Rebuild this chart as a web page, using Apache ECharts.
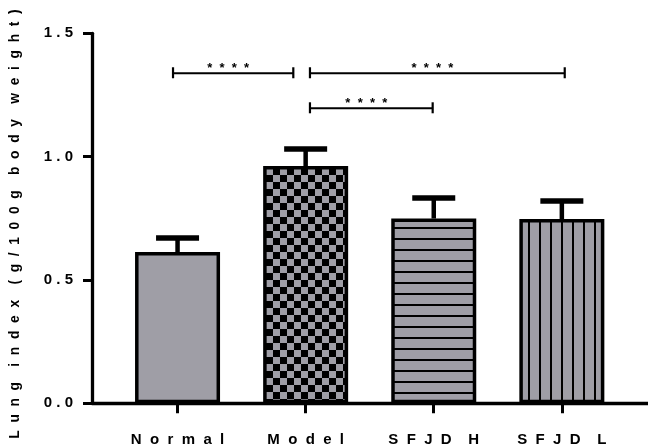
<!DOCTYPE html>
<html><head><meta charset="utf-8">
<script src="https://cdn.jsdelivr.net/npm/echarts@6/dist/echarts.min.js"></script>
<style>html,body{margin:0;padding:0;background:#fff}#c{width:648px;height:446px}</style>
</head><body><div id="c"></div>
<script>
// ---- data ----
const categories = ['Normal', 'Model', 'SFJD H', 'SFJD L'];
const means = [0.613, 0.962, 0.749, 0.747];
const errors = [0.057, 0.069, 0.083, 0.073];
const yTicks = [0.0, 0.5, 1.0, 1.5];
const bracketFrom = [-0.035, 1.034, 1.034];
const bracketTo = [0.904, 3.023, 1.992];
const bracketY = [1.338, 1.338, 1.196];
const bracketLabel = ['****', '****', '****'];
const yTitle = 'Lung index (g/100g body weight)';

// ---- styles ----
const FONT = "'Liberation Sans', Arial, Helvetica, sans-serif";
const GRAY = '#9f9ea6';
function spaced(s, inner, word) {
  return s.split(' ').map(w => w.split('').join(inner)).join(word);
}
function makeCanvas(w, h, draw) {
  const c = document.createElement('canvas');
  c.width = w; c.height = h;
  const g = c.getContext('2d');
  g.fillStyle = GRAY; g.fillRect(0, 0, w, h);
  g.fillStyle = '#000';
  draw(g);
  return c;
}
const patSolid = GRAY;
const patChecker = { image: makeCanvas(14, 14, g => { g.fillRect(7, 0, 7, 7); g.fillRect(0, 7, 7, 7); }), repeat: 'repeat' };
const patHoriz = { image: makeCanvas(8, 11, g => { g.fillRect(0, 7, 8, 2); }), repeat: 'repeat' };
const patVert = { image: makeCanvas(11, 8, g => { g.fillRect(0, 0, 2, 8); }), repeat: 'repeat' };
const fills = [patSolid, patChecker, patHoriz, patVert];

const chart = echarts.init(document.getElementById('c'), null, { renderer: 'canvas' });
chart.setOption({
  animation: false,
  backgroundColor: '#fff',
  grid: [
    { left: 113.5, width: 512.4, top: 33.3, bottom: 42.7, containLabel: false, outerBoundsMode: 'none' },
    { left: 92, right: 0, top: 33.3, bottom: 42.7, containLabel: false, outerBoundsMode: 'none' }
  ],
  xAxis: [
    {
      gridIndex: 0, type: 'category', data: categories,
      axisLine: { show: false },
      axisTick: { show: true, alignWithLabel: true, length: 10, lineStyle: { color: '#000', width: 3 } },
      axisLabel: {
        margin: 29, color: '#000', fontFamily: FONT, fontWeight: 'bold', fontSize: 15,
        formatter: v => spaced(v, '  ', '    ')
      },
      splitLine: { show: false }
    },
    {
      gridIndex: 1, type: 'value', min: -0.6675, max: 3.673,
      axisLine: { show: true, onZero: false, lineStyle: { color: '#000', width: 3.3 } },
      axisTick: { show: false }, axisLabel: { show: false }, splitLine: { show: false }
    }
  ],
  yAxis: [
    { gridIndex: 0, type: 'value', min: 0, max: 1.5, show: false },
    {
      gridIndex: 1, type: 'value', min: yTicks[0], max: yTicks[yTicks.length - 1], interval: 0.5,
      axisLine: { show: true, onZero: false, lineStyle: { color: '#000', width: 3.3 } },
      axisTick: { show: true, length: 9, lineStyle: { color: '#000', width: 3 } },
      axisLabel: {
        margin: 19, color: '#000', fontFamily: FONT, fontWeight: 'bold', fontSize: 15,
        formatter: v => v.toFixed(1).split('').join(' ')
      },
      splitLine: { show: false },
      name: spaced(yTitle, '  ', '    ') + '   ',
      nameLocation: 'middle', nameRotate: 90, nameGap: 70,
      nameTextStyle: { color: '#000', fontFamily: FONT, fontWeight: 'bold', fontSize: 13.8 }
    }
  ],
  series: [
    {
      type: 'bar', xAxisIndex: 0, yAxisIndex: 0, barWidth: 85,
      itemStyle: { borderColor: '#000', borderWidth: 3.5 },
      data: means.map((v, i) => ({ value: v, itemStyle: { color: fills[i] } }))
    },
    {
      type: 'custom', xAxisIndex: 0, yAxisIndex: 0, z: 5,
      data: means.map((m, i) => [i, m, errors[i]]),
      renderItem(params, api) {
        const i = api.value(0), m = api.value(1), e = api.value(2);
        const p0 = api.coord([i, m]), p1 = api.coord([i, m + e]);
        return {
          type: 'group', children: [
            { type: 'line', shape: { x1: p0[0], y1: p0[1], x2: p1[0], y2: p1[1] }, style: { stroke: '#000', lineWidth: 4.5 } },
            { type: 'line', shape: { x1: p1[0] - 21.5, y1: p1[1], x2: p1[0] + 21.5, y2: p1[1] }, style: { stroke: '#000', lineWidth: 5.5 } }
          ]
        };
      }
    },
    {
      type: 'custom', xAxisIndex: 1, yAxisIndex: 1, z: 5,
      data: bracketFrom.map((f, i) => [f, bracketTo[i], bracketY[i]]),
      renderItem(params, api) {
        const a = api.coord([api.value(0), api.value(2)]);
        const b = api.coord([api.value(1), api.value(2)]);
        const lbl = bracketLabel[params.dataIndex];
        return {
          type: 'group', children: [
            { type: 'line', shape: { x1: a[0], y1: a[1], x2: b[0], y2: b[1] }, style: { stroke: '#000', lineWidth: 2 } },
            { type: 'line', shape: { x1: a[0], y1: a[1] - 6, x2: a[0], y2: a[1] + 5 }, style: { stroke: '#000', lineWidth: 2.2 } },
            { type: 'line', shape: { x1: b[0], y1: b[1] - 6, x2: b[0], y2: b[1] + 5 }, style: { stroke: '#000', lineWidth: 2.2 } },
            {
              type: 'text',
              style: {
                text: lbl.split('').join('  '), x: (a[0] + b[0]) / 2 - 5, y: a[1] - 4.7,
                textAlign: 'center', textVerticalAlign: 'middle',
                fontFamily: FONT, fontWeight: 'bold', fontSize: 13, fill: '#000'
              }
            }
          ]
        };
      }
    }
  ]
});
</script>
</body></html>
